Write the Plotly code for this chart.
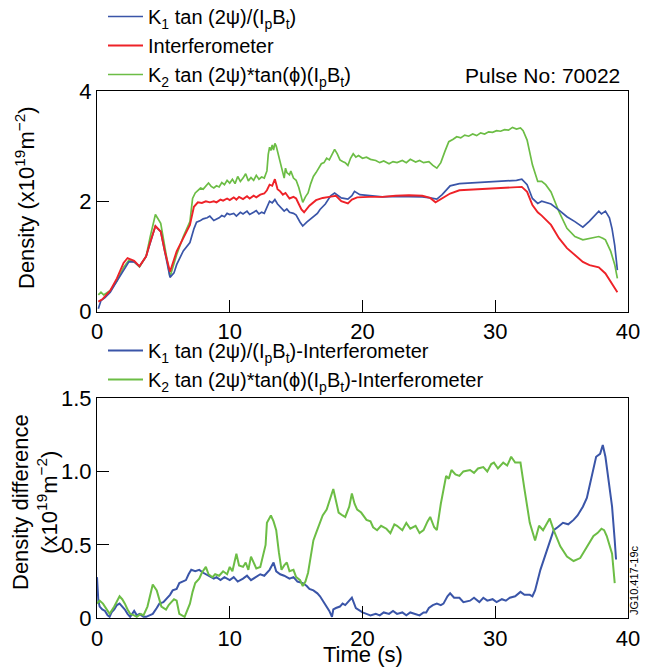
import plotly.graph_objects as go

# ---------------- data ----------------
t_k1 = [0.1,0.3,0.6,1.0,1.5,2.0,2.4,2.8,3.2,3.7,4.0,4.4,4.8,5.1,5.5,5.8,6.0,6.5,7.0,7.3,7.5,7.8,8.0,8.3,8.5,8.8,9.0,9.2,9.4,9.6,9.8,10.0,10.3,10.5,10.8,11.0,11.3,11.5,11.8,12.0,12.2,12.4,12.6,12.8,13.0,13.2,13.4,13.6,13.8,14.1,14.3,14.5,14.8,15.0,15.3,15.5,15.8,16.0,16.3,16.6,16.8,17.2,17.6,17.9,18.4,18.9,19.2,19.4,19.8,20.5,21.5,22.5,23.5,24.5,25.1,25.6,26.0,26.6,27.3,28.0,29.0,30.0,31.0,31.6,32.0,32.4,32.8,33.2,33.5,34.2,34.8,35.4,36.0,36.6,37.1,37.5,37.8,38.0,38.3,38.6,38.8,39.0,39.1,39.2]
k1 = [0.05,0.2,0.25,0.35,0.55,0.75,0.9,0.9,0.82,1.0,1.25,1.55,1.45,1.1,0.62,0.7,0.85,1.1,1.25,1.5,1.62,1.65,1.68,1.7,1.73,1.65,1.67,1.7,1.74,1.72,1.78,1.76,1.78,1.73,1.8,1.77,1.82,1.76,1.8,1.83,1.77,1.8,1.78,1.9,2.0,1.97,2.03,1.95,1.9,1.82,1.86,1.8,1.78,1.75,1.62,1.55,1.62,1.66,1.72,1.78,1.85,1.95,2.1,2.15,2.06,2.04,2.1,2.18,2.12,2.1,2.08,2.09,2.09,2.08,2.06,2.04,2.12,2.28,2.32,2.33,2.35,2.36,2.38,2.38,2.4,2.3,2.05,1.96,2.0,1.95,1.84,1.72,1.63,1.53,1.64,1.75,1.82,1.77,1.82,1.7,1.5,1.2,0.9,0.75]

t_int = [0.1,0.4,0.7,1.0,1.5,2.0,2.3,2.8,3.2,3.7,4.0,4.4,4.8,5.1,5.5,6.0,6.5,7.0,7.3,7.6,7.9,8.2,8.5,8.8,9.0,9.3,9.5,9.8,10.0,10.3,10.5,10.7,11.0,11.3,11.5,11.8,12.0,12.3,12.6,12.8,13.0,13.2,13.4,13.6,13.8,14.0,14.2,14.5,14.8,15.0,15.2,15.4,15.6,16.0,16.5,17.0,17.5,18.0,18.4,18.9,19.2,19.6,20.5,21.5,22.5,23.5,24.5,25.1,25.5,26.1,26.6,27.3,28.0,29.0,30.0,31.0,32.0,32.4,32.8,33.2,33.5,34.2,34.8,35.4,36.0,36.6,37.1,37.8,38.3,38.7,39.0,39.2]
interf = [0.18,0.22,0.3,0.38,0.6,0.88,0.97,0.92,0.82,1.0,1.25,1.55,1.45,1.1,0.72,1.09,1.33,1.57,1.9,1.98,1.97,2.0,1.98,2.0,1.98,2.03,2.01,2.05,2.02,2.07,2.03,2.08,2.04,2.09,2.05,2.1,2.07,2.12,2.14,2.2,2.3,2.28,2.4,2.22,2.18,2.12,2.15,2.05,2.08,2.05,1.95,1.85,1.8,1.92,2.02,2.06,2.08,2.1,2.0,1.96,2.03,2.07,2.08,2.08,2.1,2.11,2.1,2.06,1.98,2.06,2.14,2.2,2.21,2.23,2.24,2.25,2.26,2.17,1.93,1.8,1.74,1.57,1.33,1.15,1.03,0.9,0.84,0.8,0.69,0.54,0.42,0.35]

t_k2 = [0.1,0.3,0.5,0.7,1.0,1.5,2.0,2.4,2.8,3.2,3.7,4.0,4.4,4.8,5.1,5.5,6.0,6.5,7.0,7.2,7.4,7.6,7.8,8.0,8.2,8.4,8.6,8.8,9.0,9.2,9.4,9.6,9.8,10.0,10.2,10.4,10.6,10.8,11.0,11.2,11.4,11.6,11.8,12.0,12.2,12.4,12.6,12.8,12.9,13.0,13.1,13.2,13.3,13.4,13.5,13.6,13.8,14.0,14.1,14.2,14.3,14.5,14.6,14.8,15.0,15.2,15.4,15.5,15.7,15.9,16.1,16.3,16.5,16.7,16.9,17.1,17.3,17.5,17.7,17.9,18.1,18.3,18.5,18.7,18.9,19.1,19.3,19.5,19.7,20.0,20.3,20.6,21.0,21.3,21.6,22.0,22.3,22.6,23.0,23.3,23.6,24.0,24.3,24.6,25.0,25.3,25.6,25.9,26.2,26.5,26.8,27.1,27.4,27.7,28.0,28.3,28.6,28.9,29.2,29.5,29.8,30.1,30.4,30.7,31.0,31.3,31.6,31.9,32.1,32.4,32.8,33.2,33.5,33.8,34.2,34.8,35.4,36.0,36.6,37.1,37.5,37.8,38.1,38.3,38.7,39.0,39.2]
k2 = [0.3,0.35,0.3,0.33,0.38,0.55,0.8,0.93,0.9,0.81,1.0,1.35,1.76,1.6,1.2,0.63,1.03,1.36,1.63,2.05,2.15,2.2,2.24,2.22,2.28,2.33,2.27,2.24,2.28,2.26,2.34,2.3,2.38,2.33,2.4,2.32,2.45,2.36,2.42,2.5,2.37,2.43,2.38,2.47,2.4,2.44,2.42,2.55,2.85,2.98,2.92,3.02,2.93,3.05,3.0,2.9,2.72,2.5,2.42,2.6,2.52,2.48,2.55,2.42,2.38,2.25,2.05,1.98,2.08,2.15,2.32,2.45,2.52,2.6,2.68,2.7,2.78,2.75,2.85,2.94,2.86,2.75,2.72,2.7,2.65,2.78,2.86,2.8,2.83,2.78,2.8,2.76,2.74,2.7,2.73,2.68,2.72,2.7,2.74,2.7,2.76,2.71,2.74,2.7,2.72,2.65,2.6,2.7,2.9,3.08,3.12,3.17,3.15,3.2,3.18,3.22,3.19,3.24,3.22,3.26,3.25,3.28,3.27,3.3,3.29,3.34,3.31,3.33,3.28,3.11,2.66,2.36,2.36,2.3,2.17,1.81,1.51,1.36,1.3,1.32,1.34,1.36,1.33,1.3,1.09,0.85,0.6]

t_d1 = [0.0,0.1,0.2,0.4,0.6,0.8,0.95,1.1,1.3,1.5,1.7,1.9,2.1,2.3,2.5,2.8,3.0,3.2,3.5,3.7,4.0,4.2,4.5,4.7,5.0,5.2,5.5,5.7,6.0,6.2,6.5,6.7,6.9,7.1,7.4,7.7,8.0,8.2,8.5,8.8,9.0,9.3,9.6,10.0,10.3,10.6,11.0,11.3,11.6,12.0,12.3,12.6,12.8,13.0,13.3,13.5,13.8,14.1,14.5,14.8,15.1,15.5,15.8,16.0,16.3,16.6,16.8,17.0,17.3,17.5,17.7,17.8,18.0,18.3,18.5,18.7,19.0,19.2,19.5,19.8,20.0,20.3,20.6,21.0,21.3,21.6,22.0,22.3,22.6,23.0,23.3,23.6,24.0,24.3,24.6,24.8,25.0,25.3,25.6,25.9,26.1,26.4,26.6,26.9,27.3,27.6,28.1,28.4,28.8,29.1,29.4,29.8,30.1,30.5,30.8,31.1,31.5,31.9,32.2,32.6,32.8,33.0,33.4,33.9,34.4,34.7,35.1,35.5,35.9,36.2,36.6,36.9,37.1,37.4,37.6,37.9,38.1,38.3,38.4,38.6,38.8,39.0,39.1]
d1 = [0.28,0.12,0.08,0.06,0.05,0.02,0.01,0.04,0.06,0.09,0.1,0.08,0.06,0.03,0.01,0.05,0.02,0.03,0.01,0.01,0.02,0.03,0.07,0.1,0.11,0.13,0.16,0.19,0.2,0.24,0.25,0.26,0.3,0.33,0.32,0.33,0.31,0.3,0.29,0.27,0.28,0.26,0.28,0.26,0.28,0.25,0.27,0.29,0.26,0.28,0.3,0.29,0.31,0.33,0.38,0.32,0.3,0.29,0.27,0.28,0.25,0.24,0.22,0.2,0.19,0.17,0.15,0.12,0.08,0.05,0.01,0.06,0.07,0.08,0.1,0.09,0.12,0.14,0.07,0.05,0.04,0.03,0.02,0.03,0.02,0.04,0.03,0.05,0.03,0.04,0.02,0.04,0.03,0.02,0.04,0.04,0.07,0.09,0.1,0.09,0.1,0.15,0.17,0.14,0.14,0.11,0.12,0.14,0.11,0.14,0.12,0.13,0.11,0.13,0.12,0.14,0.15,0.18,0.16,0.16,0.15,0.19,0.33,0.47,0.6,0.62,0.65,0.64,0.67,0.7,0.76,0.82,0.9,1.0,1.1,1.12,1.18,1.1,1.03,0.9,0.76,0.53,0.4]

t_d2 = [0.0,0.2,0.45,0.7,0.95,1.3,1.7,1.9,2.1,2.3,2.5,2.8,3.0,3.3,3.5,3.8,4.0,4.2,4.5,4.7,4.85,5.2,5.4,5.6,5.8,6.0,6.2,6.6,6.8,7.0,7.2,7.4,7.7,7.9,8.2,8.4,8.7,8.9,9.2,9.5,9.8,10.0,10.2,10.4,10.5,10.7,11.0,11.2,11.4,11.6,11.8,12.0,12.3,12.5,12.7,12.8,13.0,13.1,13.3,13.5,13.7,13.9,14.1,14.3,14.5,14.8,15.0,15.3,15.5,15.7,15.9,16.1,16.3,16.5,16.8,17.0,17.3,17.5,17.8,18.0,18.2,18.5,18.7,19.0,19.2,19.4,19.6,19.9,20.3,20.6,20.8,21.1,21.4,21.8,22.1,22.4,22.6,23.0,23.3,23.6,24.0,24.3,24.6,24.9,25.1,25.4,25.6,25.9,26.3,26.5,26.7,27.0,27.3,27.6,28.1,28.4,28.7,29.1,29.4,29.7,29.9,30.2,30.6,30.9,31.2,31.5,31.9,32.2,32.6,33.0,33.3,33.6,34.1,34.4,34.9,35.4,35.9,36.4,36.9,37.4,37.7,38.0,38.2,38.4,38.8,39.0]
d2 = [0.1,0.12,0.1,0.06,0.03,0.08,0.15,0.13,0.1,0.06,0.03,0.02,0.01,0.03,0.02,0.08,0.15,0.23,0.19,0.12,0.08,0.06,0.09,0.11,0.13,0.12,0.03,0.01,0.05,0.1,0.18,0.24,0.27,0.31,0.35,0.3,0.28,0.3,0.29,0.32,0.3,0.35,0.32,0.4,0.44,0.36,0.35,0.38,0.33,0.42,0.38,0.34,0.35,0.42,0.5,0.65,0.68,0.7,0.66,0.6,0.45,0.33,0.36,0.38,0.32,0.33,0.28,0.26,0.22,0.25,0.31,0.42,0.53,0.58,0.65,0.7,0.74,0.8,0.88,0.8,0.72,0.7,0.69,0.76,0.85,0.78,0.74,0.72,0.67,0.66,0.62,0.6,0.63,0.61,0.58,0.64,0.63,0.6,0.65,0.61,0.63,0.58,0.6,0.66,0.69,0.62,0.6,0.78,0.97,0.95,1.01,0.98,0.97,1.0,1.01,0.99,1.02,1.03,1.0,1.05,1.06,1.02,1.06,1.04,1.1,1.06,1.06,0.88,0.65,0.53,0.63,0.6,0.68,0.6,0.49,0.42,0.39,0.41,0.49,0.56,0.58,0.61,0.6,0.56,0.44,0.24]

top_yticks = [0, 2, 4]
bot_yticks = [0, 0.5, 1.0, 1.5]
bot_yticklabels = ["0", "0.5", "1.0", "1.5"]
x_ticks = [0, 10, 20, 30, 40]

# ---------------- styling ----------------
BLUE = "#3a55a8"
RED = "#ee2228"
GREEN = "#6cbd45"
FONT = "Liberation Sans, Arial, sans-serif"
FS = 22
LFS = 20

name_k1 = "K<sub>1</sub> tan (2ψ)/(I<sub>p</sub>B<sub>t</sub>)"
name_int = "Interferometer"
name_k2 = "K<sub>2</sub> tan (2ψ)*tan(ϕ)(I<sub>p</sub>B<sub>t</sub>)"

fig = go.Figure()
fig.add_trace(go.Scatter(x=t_k2, y=k2, mode="lines", name=name_k2, line=dict(color=GREEN, width=1.7),
                         legend="legend", legendrank=3, xaxis="x", yaxis="y"))
fig.add_trace(go.Scatter(x=t_k1, y=k1, mode="lines", name=name_k1, line=dict(color=BLUE, width=1.7),
                         legend="legend", legendrank=1, xaxis="x", yaxis="y"))
fig.add_trace(go.Scatter(x=t_int, y=interf, mode="lines", name=name_int, line=dict(color=RED, width=1.9),
                         legend="legend", legendrank=2, xaxis="x", yaxis="y"))
fig.add_trace(go.Scatter(x=t_d1, y=d1, mode="lines", name=name_k1 + "-Interferometer",
                         line=dict(color=BLUE, width=2), legend="legend2", legendrank=1,
                         xaxis="x2", yaxis="y2"))
fig.add_trace(go.Scatter(x=t_d2, y=d2, mode="lines", name=name_k2 + "-Interferometer",
                         line=dict(color=GREEN, width=2), legend="legend2", legendrank=2,
                         xaxis="x2", yaxis="y2"))

H = 668.0
def py(px):
    return 1 - px / H
def pxr(px):
    return (px - 97) / 531.0

axis_common = dict(showline=True, linecolor="black", linewidth=1, mirror=True,
                   ticks="inside", ticklen=12, tickcolor="black", tickwidth=1,
                   showgrid=False, zeroline=False, automargin=False,
                   tickfont=dict(family=FONT, size=FS, color="black"))

legend_common = dict(xanchor="left", yanchor="top", bgcolor="rgba(0,0,0,0)",
                     font=dict(family=FONT, size=LFS, color="black"), itemwidth=35,
                     tracegroupgap=0, traceorder="normal", borderwidth=0)

fig.update_layout(
    template="none",
    width=645, height=668, autosize=False,
    margin=dict(l=97, r=17, t=0, b=0, pad=0, autoexpand=False),
    paper_bgcolor="white", plot_bgcolor="white",
    font=dict(family=FONT, size=FS, color="black"),
    xaxis=dict(domain=[0, 1], range=[0, 40], tickvals=x_ticks, anchor="y", **axis_common),
    yaxis=dict(domain=[py(311.5), py(91)], range=[0, 4], tickvals=top_yticks, anchor="x", **axis_common),
    xaxis2=dict(domain=[0, 1], range=[0, 40], tickvals=x_ticks, anchor="y2", **axis_common),
    yaxis2=dict(domain=[py(618.3), py(398)], range=[0, 1.5], tickvals=bot_yticks,
                ticktext=bot_yticklabels, anchor="x2", **axis_common),
    legend=dict(x=pxr(103), y=py(-3), **legend_common),
    legend2=dict(x=pxr(103), y=py(331), **legend_common),
    showlegend=True,
)

ann = []
ann.append(dict(text="Density (x10<sup>19</sup>m<sup>−2</sup>)", textangle=-90,
                x=pxr(25), y=py(198), xref="paper", yref="paper",
                xanchor="center", yanchor="middle", showarrow=False,
                font=dict(family=FONT, size=FS, color="black")))
ann.append(dict(text="Density difference<br>(x10<sup>19</sup>m<sup>−2</sup>)", textangle=-90,
                x=pxr(35), y=py(502), xref="paper", yref="paper",
                xanchor="center", yanchor="middle", showarrow=False,
                font=dict(family=FONT, size=FS, color="black")))
ann.append(dict(text="Time (s)", x=0.5, y=py(654), xref="paper", yref="paper",
                xanchor="center", yanchor="middle", showarrow=False,
                font=dict(family=FONT, size=FS, color="black")))
ann.append(dict(text="Pulse No: 70022", x=pxr(622), y=py(75), xref="paper", yref="paper",
                xanchor="right", yanchor="middle", showarrow=False,
                font=dict(family=FONT, size=21, color="black")))
ann.append(dict(text="JG10.417-19c", textangle=-90, x=pxr(634), y=py(580),
                xref="paper", yref="paper", xanchor="center", yanchor="middle", showarrow=False,
                font=dict(family=FONT, size=11, color="black")))
fig.update_layout(annotations=ann)

fig.write_html("out.html")
